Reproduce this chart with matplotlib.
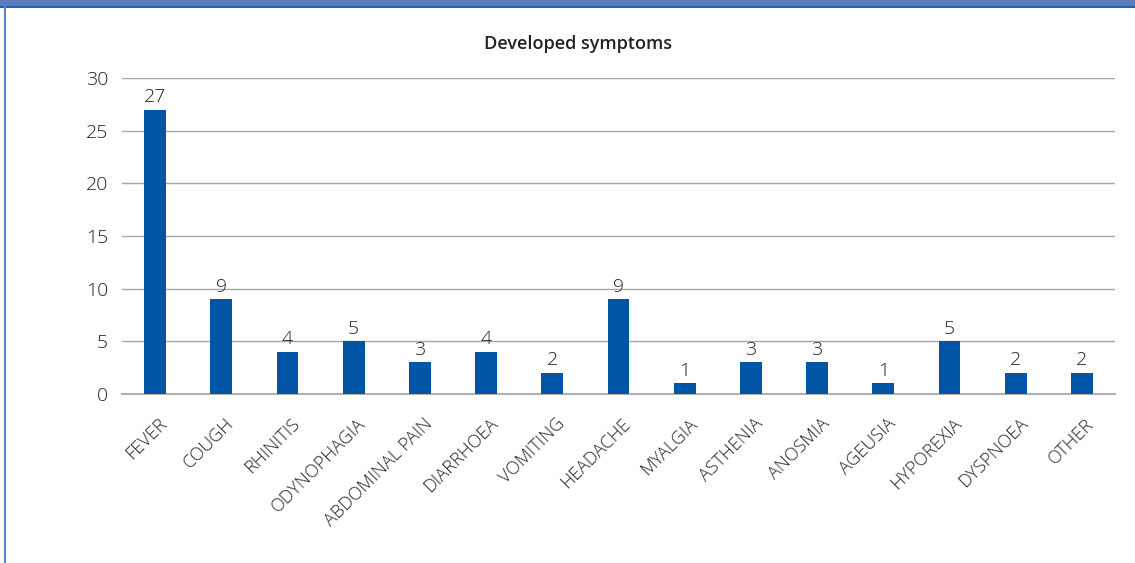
import matplotlib.pyplot as plt
from matplotlib.patches import Rectangle
from matplotlib.transforms import ScaledTranslation

symptoms = ["FEVER", "COUGH", "RHINITIS", "ODYNOPHAGIA", "ABDOMINAL PAIN",
            "DIARRHOEA", "VOMITING", "HEADACHE", "MYALGIA", "ASTHENIA",
            "ANOSMIA", "AGEUSIA", "HYPOREXIA", "DYSPNOEA", "OTHER"]
counts = [27, 9, 4, 5, 3, 4, 2, 9, 1, 3, 3, 1, 5, 2, 2]
yticks = [0, 5, 10, 15, 20, 25, 30]

plt.rcParams['font.family'] = ['Open Sans', 'DejaVu Sans']
txt_color = '#222222'

fig = plt.figure(figsize=(11.35, 5.63), dpi=100, facecolor='white')

# frame: header band on top and a blue rule on the left
fig.patches.append(Rectangle((0, 1 - 6/563), 1, 6/563, transform=fig.transFigure,
                             facecolor='#5b7bbf', edgecolor='none', zorder=0))
fig.patches.append(Rectangle((0, 1 - 8/563), 1, 2/563, transform=fig.transFigure,
                             facecolor='#1f5fb5', edgecolor='none', zorder=0))
fig.patches.append(Rectangle((4/1135, 0), 2/1135, 1 - 6/563, transform=fig.transFigure,
                             facecolor='#4a88cf', edgecolor='none', zorder=0))

ax = fig.add_axes([122/1135, 1 - 394/563, (1115 - 122)/1135, (394 - 78)/563])
x = range(len(symptoms))
ax.bar(x, counts, width=0.33, color='#0055a5', zorder=3)
for xi, v in zip(x, counts):
    ax.text(xi, v + 0.35, str(v), ha='center', va='bottom', fontsize=14,
            fontweight='light', color=txt_color)

ax.set_xlim(-0.5, len(symptoms) - 0.5)
ax.set_ylim(0, 30)
ax.set_yticks(yticks)
ax.set_yticklabels([str(t) for t in yticks], fontsize=14, fontweight='light', color=txt_color)
ax.yaxis.grid(True, color='#a6a6a6', lw=1)
ax.set_axisbelow(True)
ax.tick_params(axis='y', length=0, pad=10)
ax.tick_params(axis='x', length=0, pad=15)
ax.set_xticks(list(x))
ax.set_xticklabels(symptoms, rotation=45, ha='right', va='top', rotation_mode='anchor',
                   fontsize=13, fontweight='light', color=txt_color)
shift = ScaledTranslation(3/100, 0, fig.dpi_scale_trans)
for lbl in ax.get_xticklabels():
    lbl.set_transform(lbl.get_transform() + shift)
for side in ['top', 'right', 'left']:
    ax.spines[side].set_visible(False)
ax.spines['bottom'].set_color('#b0b0b0')
ax.spines['bottom'].set_linewidth(1.5)

fig.text(578/1135, 1 - 44/563, "Developed symptoms", ha='center', va='center',
         fontsize=13, fontweight='semibold', color='#222222')

fig.savefig('out.png', dpi=100)
